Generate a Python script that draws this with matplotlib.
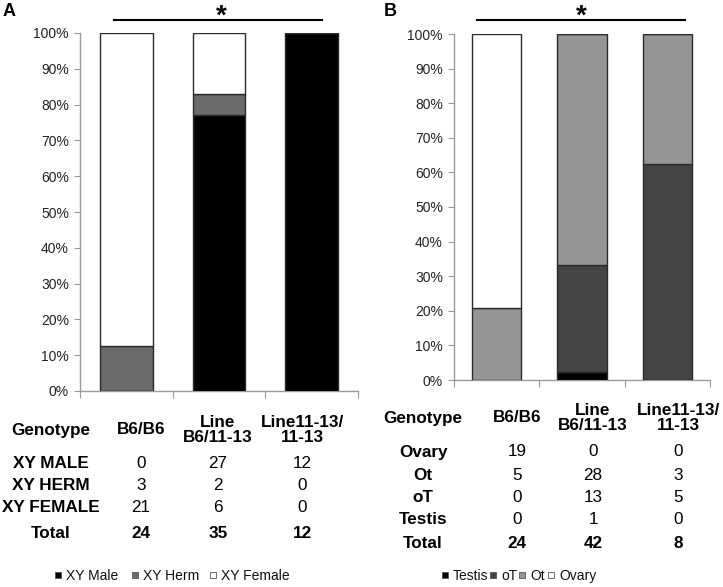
import matplotlib
matplotlib.use("Agg")
import matplotlib.pyplot as plt
from matplotlib.lines import Line2D
from matplotlib.patches import Rectangle
import numpy as np

plt.rcParams['font.family'] = ['Liberation Sans', 'DejaVu Sans']

# ---------------- data ----------------
genotypes = ['B6/B6', 'Line\nB6/11-13', 'Line11-13/\n11-13']

# Panel A counts
xy_male = [0, 27, 12]
xy_herm = [3, 2, 0]
xy_female = [21, 6, 0]
total_a = [24, 35, 12]

# Panel B counts
ovary = [19, 0, 0]
ot = [5, 28, 3]
oT = [0, 13, 5]
testis = [0, 1, 0]
total_b = [24, 42, 8]

yticks = [0, 10, 20, 30, 40, 50, 60, 70, 80, 90, 100]
ytick_labels = [f"{v}%" for v in yticks]

W, H = 723, 587
fig = plt.figure(figsize=(W / 100, H / 100), dpi=100)
fig.patch.set_facecolor('white')


def fx(px):
    return px / W


def fy(py):
    return 1 - py / H


def make_axes(left, right, top, bottom):
    ax = fig.add_axes([fx(left), fy(bottom), fx(right) - fx(left), fy(top) - fy(bottom)])
    ax.set_xlim(-0.5, 2.5)
    ax.set_ylim(0, 100)
    for s in ['top', 'right']:
        ax.spines[s].set_visible(False)
    for s in ['left', 'bottom']:
        ax.spines[s].set_color('#9a9a9a')
        ax.spines[s].set_linewidth(1.0)
    ax.set_yticks(yticks)
    ax.set_yticklabels(ytick_labels, fontsize=10, color='#222222')
    ax.tick_params(axis='y', length=4, color='#9a9a9a', pad=4)
    ax.set_xticks([-0.5, 0.5, 1.5, 2.5])
    ax.set_xticklabels([])
    ax.tick_params(axis='x', length=5, color='#9a9a9a', direction='out')
    ax.patch.set_alpha(0)
    return ax


def stack(ax, series, totals, colors, width):
    x = np.arange(3)
    bottom = np.zeros(3)
    tot = np.array(totals, dtype=float)
    for vals, c in zip(series, colors):
        pct = np.array(vals, dtype=float) / tot * 100
        ax.bar(x, pct, width, bottom=bottom, color=c, edgecolor='#2a2a2a',
               linewidth=1.0, zorder=3)
        bottom += pct


# ---------------- Panel A ----------------
axA = make_axes(80, 358, 33, 391)
stack(axA, [xy_male, xy_herm, xy_female], total_a,
      ['#000000', '#6b6b6b', '#ffffff'], 0.57)

# ---------------- Panel B ----------------
axB = make_axes(454, 710, 34, 380)
stack(axB, [testis, oT, ot, ovary], total_b,
      ['#000000', '#444444', '#959595', '#ffffff'], 0.575)

# panel letters
fig.text(fx(9), fy(11), 'A', fontsize=13, fontweight='bold', ha='center', va='center')
fig.text(fx(390), fy(11), 'B', fontsize=13, fontweight='bold', ha='center', va='center')

# significance bars
for x0, x1, xs in [(114, 322, 221), (477, 685, 581)]:
    fig.add_artist(Line2D([fx(x0), fx(x1)], [fy(20), fy(20)], color='black', lw=1.5,
                          transform=fig.transFigure))
    fig.text(fx(xs), fy(24), '*', fontsize=20, fontweight='bold', ha='center',
             va='baseline')

# ---------------- Tables ----------------
TFS = 12.3


def table(label_x, col_x, header_y, row_labels, rows, total, row_ys, total_y):
    fig.text(fx(label_x), fy(header_y), 'Genotype', fontsize=TFS, fontweight='bold',
             ha='center', va='center')
    for cx, g in zip(col_x, genotypes):
        fig.text(fx(cx), fy(header_y), g, fontsize=TFS, fontweight='bold',
                 ha='center', va='center', linespacing=1.0)
    for lab, vals, ry in zip(row_labels, rows, row_ys):
        fig.text(fx(label_x), fy(ry), lab, fontsize=TFS, fontweight='bold',
                 ha='center', va='center')
        for cx, v in zip(col_x, vals):
            fig.text(fx(cx), fy(ry), str(v), fontsize=TFS, ha='center', va='center')
    fig.text(fx(label_x), fy(total_y), 'Total', fontsize=TFS, fontweight='bold',
             ha='center', va='center')
    for cx, v in zip(col_x, total):
        fig.text(fx(cx), fy(total_y), str(v), fontsize=TFS, fontweight='bold',
                 ha='center', va='center')


table(51, [141, 218, 302], 430,
      ['XY MALE', 'XY HERM', 'XY FEMALE'], [xy_male, xy_herm, xy_female], total_a,
      [463, 486, 508], 534)

table(423, [517, 593, 678], 418,
      ['Ovary', 'Ot', 'oT', 'Testis'], [ovary, ot, oT, testis], total_b,
      [452, 475, 498, 520], 543)

# ---------------- Legends ----------------
def legend(items, y):
    for (sx, label, color) in items:
        s = 6.5
        fig.add_artist(Rectangle((fx(sx - s / 2), fy(y + s / 2 - 1)), s / W, s / H,
                                 facecolor=color, edgecolor='#555555', lw=0.6,
                                 transform=fig.transFigure))
        fig.text(fx(sx + 8), fy(y), label, fontsize=10, ha='left', va='center',
                 color='#111111')


legend([(58, 'XY Male', '#000000'), (135, 'XY Herm', '#6b6b6b'),
        (213, 'XY Female', '#ffffff')], 576)
legend([(445, 'Testis', '#000000'), (493, 'oT', '#444444'),
        (522, 'Ot', '#959595'), (551, 'Ovary', '#ffffff')], 576)

fig.savefig('out.png', dpi=100, facecolor='white')
